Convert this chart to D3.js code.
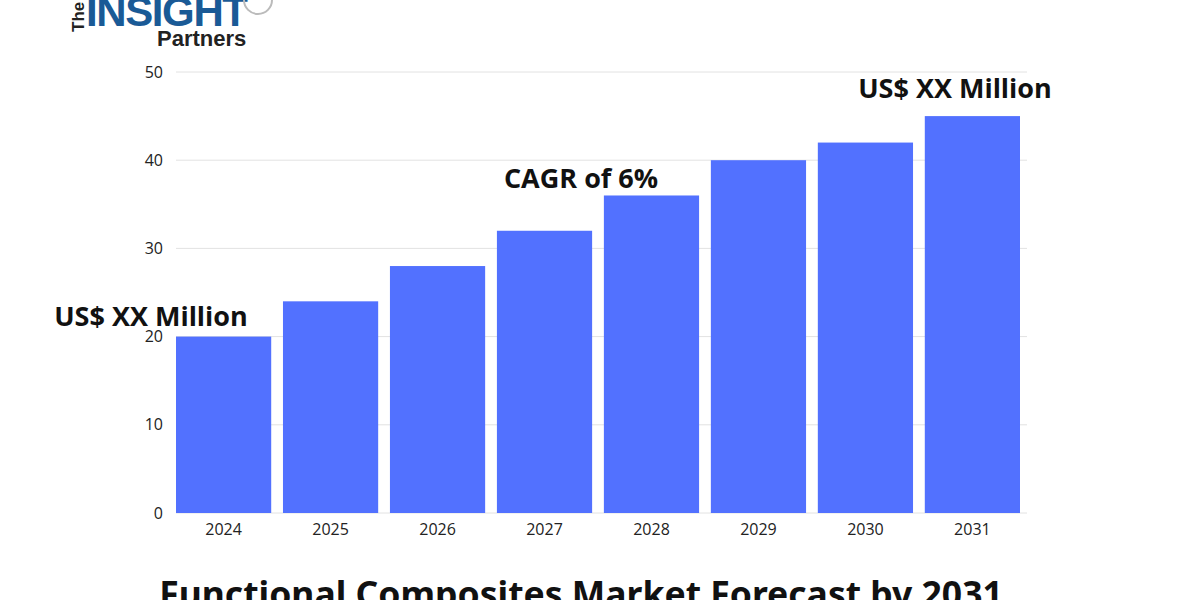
<!DOCTYPE html>
<html><head><meta charset="utf-8">
<script src="https://cdn.jsdelivr.net/npm/d3@7"></script>
<style>body{margin:0;background:#fff}svg{display:block}</style>
</head><body><div id="chart"></div>
<script>
// data
const years = ["2024","2025","2026","2027","2028","2029","2030","2031"];
const values = [20, 24, 28, 32, 36, 40, 42, 45];
const yTicks = [0, 10, 20, 30, 40, 50];

const svg = d3.select("#chart").append("svg")
    .attr("width", 1200).attr("height", 600);

const x = d3.scaleBand().domain(years).range([176, 1020])
    .paddingInner(0.11).paddingOuter(0);
const y = d3.scaleLinear().domain([0, 50]).range([513, 72]);

// gridlines
svg.append("g").selectAll("line").data(yTicks).join("line")
    .attr("x1", 176).attr("x2", 1027)
    .attr("y1", d => y(d)).attr("y2", d => y(d))
    .attr("stroke", "#e2e2e2").attr("stroke-width", 1);

// y tick labels
svg.append("g").selectAll("text").data(yTicks).join("text")
    .attr("x", 163).attr("y", d => y(d)).attr("dy", "0.35em")
    .attr("text-anchor", "end")
    .style("font", "16px 'Open Sans', sans-serif").attr("fill", "#222")
    .text(d => d);

// bars
svg.append("g").selectAll("rect").data(values).join("rect")
    .attr("x", (d, i) => x(years[i])).attr("width", x.bandwidth())
    .attr("y", d => y(d)).attr("height", d => y(0) - y(d))
    .attr("fill", "#5271ff");

// x labels
svg.append("g").selectAll("text").data(years).join("text")
    .attr("x", d => x(d) + x.bandwidth() / 2).attr("y", 535)
    .attr("text-anchor", "middle")
    .style("font", "16px 'Open Sans', sans-serif").attr("fill", "#222")
    .text(d => d);

// annotations
const ann = [
    {t: "US$ XX Million", x: 151, y: 326},
    {t: "CAGR of 6%", x: 581, y: 188},
    {t: "US$ XX Million", x: 955, y: 98}
];
svg.append("g").selectAll("text").data(ann).join("text")
    .attr("x", d => d.x).attr("y", d => d.y).attr("text-anchor", "middle")
    .style("font", "bold 27px 'Open Sans', sans-serif").attr("fill", "#111")
    .text(d => d.t);

// title (cut off at bottom like reference)
svg.append("text").attr("x", 581).attr("y", 607).attr("text-anchor", "middle")
    .style("font", "bold 35.5px 'Noto Sans', sans-serif").attr("fill", "#111")
    .text("Functional Composites Market Forecast by 2031");

// logo
const logo = svg.append("g");
logo.append("text").attr("transform", "translate(84,32) rotate(-90)")
    .style("font", "bold 17px 'Liberation Sans', sans-serif").attr("fill", "#222").text("The");
logo.append("text").attr("x", 86).attr("y", 26)
    .style("font", "bold 42px 'Liberation Sans Narrow', 'Liberation Sans', sans-serif")
    .attr("fill", "#1a5a96").attr("textLength", 162).text("INSIGHT");
logo.append("circle").attr("cx", 258).attr("cy", 0).attr("r", 14)
    .attr("fill", "none").attr("stroke", "#bbb").attr("stroke-width", 2);
logo.append("text").attr("x", 157).attr("y", 46)
    .style("font", "bold 22px 'Liberation Sans', sans-serif").attr("fill", "#222").text("Partners");
</script></body></html>
